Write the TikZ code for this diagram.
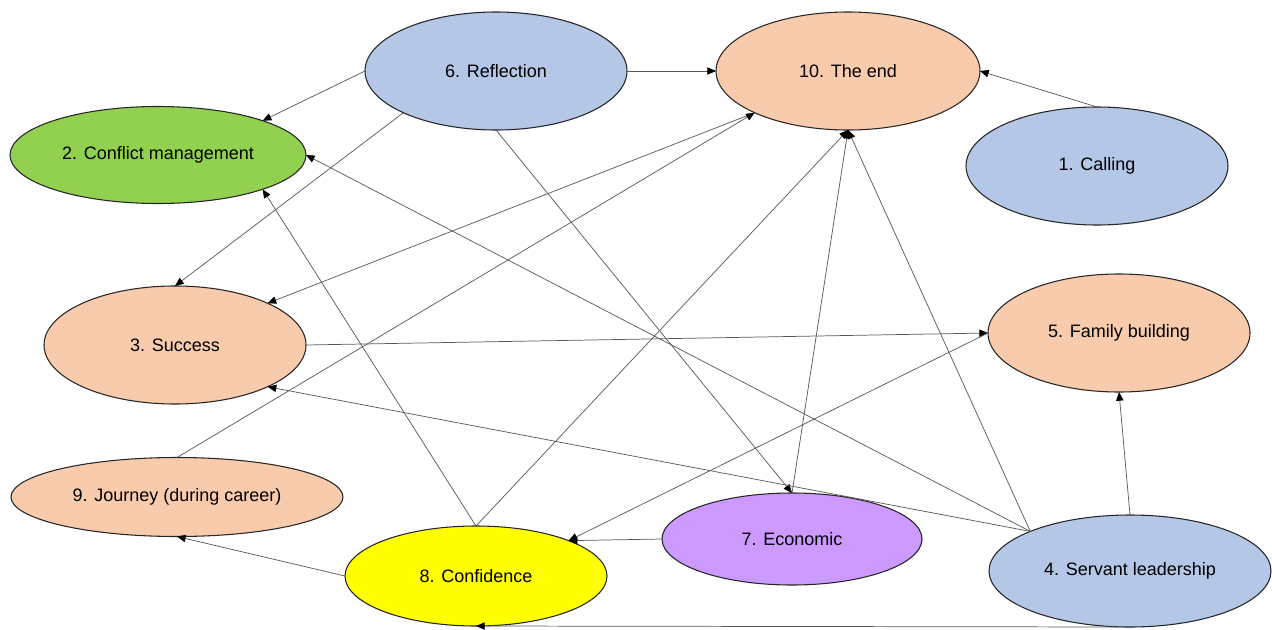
\documentclass[tikz,border=0pt]{standalone}
\usepackage{fontspec}
\setmainfont{Liberation Sans}
\usetikzlibrary{shapes.geometric,arrows.meta}

\definecolor{peach}{HTML}{F8CBAD}
\definecolor{paleblue}{HTML}{B4C7E7}
\definecolor{leaf}{HTML}{92D050}
\definecolor{lemon}{HTML}{FFFF00}
\definecolor{lilac}{HTML}{CC99FF}
\definecolor{edgegray}{HTML}{5A5A5A}

\tikzset{
  topic/.style={ellipse, draw=black!85, line width=0.8pt, inner sep=0pt,
    outer sep=0pt, font=\fontsize{13.5}{16}\selectfont, text=black},
  link/.style={draw=edgegray, line width=0.55pt,
    -{Triangle[length=6.5pt,width=5.5pt,color=black]}},
}

\begin{document}
\begin{tikzpicture}[x=0.75pt, y=-0.75pt]
  \useasboundingbox (0,0) rectangle (1272,629);

  % topics
  \node[topic, fill=paleblue, minimum width=196.5pt, minimum height=88.5pt] (n6)  at (496,71)  {6. Reflection};
  \node[topic, fill=peach,    minimum width=198pt,   minimum height=88.5pt] (n10) at (848,71)  {10. The end};
  \node[topic, fill=leaf,     minimum width=222pt,   minimum height=72.75pt] (n2) at (158,155) {2. Conflict management};
  \node[topic, fill=paleblue, minimum width=196.5pt, minimum height=88.5pt] (n1)  at (1097,166) {1. Calling};
  \node[topic, fill=peach,    minimum width=196.5pt, minimum height=88.5pt] (n3)  at (175,345) {3. Success};
  \node[topic, fill=peach,    minimum width=196.5pt, minimum height=88.5pt] (n5)  at (1119,333) {5. Family building};
  \node[topic, fill=peach,    minimum width=249pt,   minimum height=59.25pt] (n9) at (177,497) {9. Journey (during career)};
  \node[topic, fill=lilac,    minimum width=195pt,   minimum height=69pt]   (n7)  at (792,539) {7. Economic};
  \node[topic, fill=lemon,    minimum width=196.5pt, minimum height=75pt]   (n8)  at (476,576) {8. Confidence};
  \node[topic, fill=paleblue, minimum width=211.5pt, minimum height=84pt]   (n4)  at (1130,571) {4. Servant leadership};

  % connections
  \draw[link] (n6.east) -- (n10.west);
  \draw[link] (n6.west) -- (n2.north east);
  \draw[link] (n6.south west) -- (n3.north);
  \draw[link] (n6.south) -- (n7.north);
  \draw[link] (n1.north) -- (n10.east);
  \draw[link] (n10.south west) -- (n3.north east);
  \draw[link] (n9.north) -- (n10.south west);
  \draw[link] (n8.north) -- (n10.south);
  \draw[link] (n7.north) -- (n10.south);
  \draw[link] (n4.north west) -- (n10.south);
  \draw[link] (n4.north west) -- (n2.east);
  \draw[link] (n4.north west) -- (n3.south east);
  \draw[link] (n4.north) -- (n5.south);
  \draw[link] (n4.south) -- (n8.south);
  \draw[link] (n3.east) -- (n5.west);
  \draw[link] (n5.west) -- (n8.north east);
  \draw[link] (n7.west) -- (n8.north east);
  \draw[link] (n8.west) -- (n9.south);
  \draw[link] (n8.north) -- (n2.south east);
\end{tikzpicture}
\end{document}
